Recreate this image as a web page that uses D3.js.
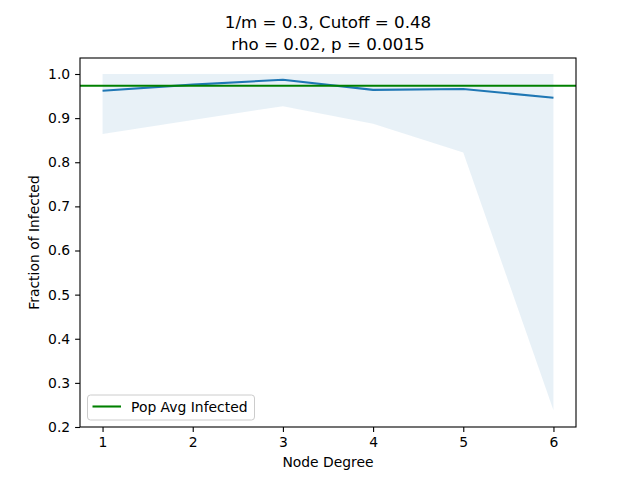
<!DOCTYPE html>
<html><head><meta charset="utf-8">
<script src="https://cdn.jsdelivr.net/npm/d3@7"></script>
<style>body{margin:0;background:#fff}svg{display:block;font-family:"DejaVu Sans",sans-serif}</style>
</head><body><div id="c"></div>
<script>
const degrees = [1, 2, 3, 4, 5, 6];
const meanInfected = [0.962, 0.976, 0.987, 0.964, 0.966, 0.946];
const upperBand = [1.0, 1.0, 1.0, 1.0, 1.0, 1.0];
const lowerBand = [0.864, 0.896, 0.927, 0.887, 0.822, 0.238];
const popAvg = 0.9735;
const yTicks = [0.2, 0.3, 0.4, 0.5, 0.6, 0.7, 0.8, 0.9, 1.0];
const xTicks = [1, 2, 3, 4, 5, 6];

const W = 640, H = 480;
const L = 80, R = 576, T = 58, B = 427;
const svg = d3.select("#c").append("svg").attr("width", W).attr("height", H);
const x = d3.scaleLinear().domain([0.75, 6.25]).range([L, R]);
const y = d3.scaleLinear().domain([0.2, 1.0]).range([427, 74]);
y.domain([0.2, y.invert(T)]).range([B, T]);

const band = d3.area().x((d, i) => x(degrees[i])).y0((d, i) => y(lowerBand[i])).y1((d, i) => y(upperBand[i]));
svg.append("path").datum(degrees).attr("d", band).attr("fill", "#1f77b4").attr("fill-opacity", 0.1);

const line = d3.line().x((d, i) => x(degrees[i])).y(d => y(d));
svg.append("path").datum(meanInfected).attr("d", line).attr("fill", "none").attr("stroke", "#1f77b4").attr("stroke-width", 2.08).attr("stroke-linejoin", "round");

svg.append("line").attr("x1", L).attr("x2", R).attr("y1", y(popAvg)).attr("y2", y(popAvg)).attr("stroke", "#008000").attr("stroke-width", 2.08);

const xa = svg.append("g").attr("transform", `translate(0,${B})`).call(d3.axisBottom(x).tickValues(xTicks).tickFormat(d3.format("d")).tickSize(4.9).tickPadding(4.9));
const ya = svg.append("g").attr("transform", `translate(${L},0)`).call(d3.axisLeft(y).tickValues(yTicks).tickFormat(d3.format(".1f")).tickSize(4.9).tickPadding(4.9));
[xa, ya].forEach(a => {
  a.select(".domain").remove();
  a.selectAll("text").attr("font-size", "13.9px").attr("font-family", "DejaVu Sans").attr("fill", "#000");
  a.selectAll("line").attr("stroke", "#000").attr("stroke-width", 1.1);
});
svg.append("rect").attr("x", L).attr("y", T).attr("width", R - L).attr("height", B - T).attr("fill", "none").attr("stroke", "#000").attr("stroke-width", 1.1);

svg.append("text").attr("x", (L + R) / 2).attr("y", 28).attr("text-anchor", "middle").attr("font-size", "16.7px").text("1/m = 0.3, Cutoff = 0.48");
svg.append("text").attr("x", (L + R) / 2).attr("y", 50).attr("text-anchor", "middle").attr("font-size", "16.7px").text("rho = 0.02, p = 0.0015");
svg.append("text").attr("x", (L + R) / 2).attr("y", 467).attr("text-anchor", "middle").attr("font-size", "13.9px").text("Node Degree");
svg.append("text").attr("transform", `translate(39,${(T + B) / 2}) rotate(-90)`).attr("text-anchor", "middle").attr("font-size", "13.9px").text("Fraction of Infected");

const lg = svg.append("g");
lg.append("rect").attr("x", 87.5).attr("y", 395).attr("width", 167).attr("height", 25).attr("rx", 3).attr("fill", "#fff").attr("fill-opacity", 0.8).attr("stroke", "#ccc").attr("stroke-width", 1);
lg.append("line").attr("x1", 92.5).attr("x2", 121).attr("y1", 406.5).attr("y2", 406.5).attr("stroke", "#008000").attr("stroke-width", 2.08);
lg.append("text").attr("x", 131).attr("y", 411.5).attr("font-size", "13.9px").text("Pop Avg Infected");
</script></body></html>
